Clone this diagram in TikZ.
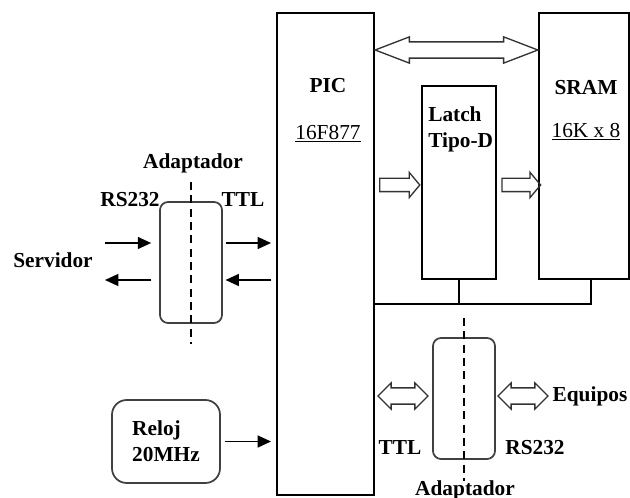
\documentclass[tikz,border=0pt]{standalone}
\usepackage{fontspec}
\setmainfont{Liberation Serif}
\usepackage{tikz}
\usetikzlibrary{shapes, shapes.arrows, arrows.meta, positioning, calc}

\begin{document}
\begin{tikzpicture}[x=0.75pt, y=-0.75pt,
    lbl/.style={font=\fontsize{16}{19.5}\selectfont\bfseries, inner sep=0pt},
    chip/.style={draw, line width=1pt, inner sep=0pt},
    adapt/.style={draw=black!75, line width=1.3pt, rounded corners=6pt, minimum width=46.5pt, minimum height=90.75pt},
    arr/.style={-{Triangle[length=10pt, width=9pt]}, line width=1pt},
    cut/.style={line width=1.2pt, dash pattern=on 6pt off 4pt},
    hollow/.style={draw=black!80, line width=1pt, inner xsep=0pt, inner ysep=5.6pt}]
    \useasboundingbox (0,0) rectangle (630,498);

    % Main blocks
    \node[chip, minimum width=72.75pt, minimum height=361.5pt] (pic) at (325.5,254) {};
    \node[chip, minimum width=67.5pt, minimum height=199.5pt] (sram) at (584,146) {};
    \node[chip, minimum width=55.5pt, minimum height=144.75pt] (latch) at (459,182.5) {};
    \node[lbl] (pictxt) at (328,86) {PIC};
    \node[lbl, font=\fontsize{16}{19.5}\selectfont] (picref) at (328,134) {\underline{16F877}};
    \node[lbl] (sramtxt) at (586,88) {SRAM};
    \node[lbl, font=\fontsize{16}{19.5}\selectfont] (sramref) at (586,132) {\underline{16K x 8}};
    \node[lbl, align=left, anchor=west] (latchtxt) at (428,129) {Latch\\Tipo-D};

    % Buses
    \node[hollow, shape=double arrow, double arrow head extend=3.75pt, double arrow tip angle=42,
          minimum height=122pt] (databus) at (456.5,50) {};
    \node[hollow, inner ysep=4.5pt, shape=single arrow, single arrow head extend=4.5pt, single arrow tip angle=100,
          minimum height=30pt] (toLatch) at (397,185) {};
    \node[hollow, inner ysep=4.5pt, shape=single arrow, single arrow head extend=4.5pt, single arrow tip angle=100,
          minimum height=29pt] (toSram) at (518.5,185) {};
    \coordinate (bus) at (374,304);
    \draw[line width=1pt] (latch.south) -- (latch.south |- bus);
    \draw[line width=1pt] (pic.east |- bus) -| ($(sram.south)+(7,0)$);

    % Serial adapter to server
    \node[adapt] (adA) at (191,262.5) {};
    \draw[cut] ($(adA.north)+(0,-19)$) -- ($(adA.south)+(0,20)$);
    \node[lbl] (adAtxt) at (193,163) {Adaptador};
    \node[lbl] (adArs) at (130,200) {RS232};
    \node[lbl] (adAttl) at (243,200) {TTL};
    \node[lbl] (srv) at (53,260) {Servidor};
    \coordinate (srvA) at (105,243);
    \coordinate (srvB) at (105,280);
    \draw[arr, shorten >=6pt] (srvA) -- (adA.west |- srvA);
    \draw[arr, shorten <=2pt, shorten >=4pt] (adA.east |- srvA) -- (pic.west |- srvA);
    \draw[arr, shorten <=6pt] (adA.west |- srvB) -- (srvB);
    \draw[arr, shorten <=4pt, shorten >=2pt] (pic.west |- srvB) -- (adA.east |- srvB);

    % Clock
    \node[draw=black!75, line width=1.3pt, rounded corners=11pt, minimum width=81pt, minimum height=62.25pt] (reloj) at (166,441.5) {};
    \node[lbl, align=left] (relojtxt) at (reloj) {Reloj\\20MHz};
    \draw[arr, shorten <=3pt, shorten >=4pt] (reloj.east) -- (pic.west |- reloj.east);

    % Serial adapter to equipment
    \node[adapt] (adB) at (464,398.5) {};
    \draw[cut] ($(adB.north)+(0,-19)$) -- ($(adB.south)+(0,21)$);
    \node[hollow, shape=double arrow, double arrow head extend=3.75pt,
          minimum height=37.5pt] (ttlbus) at (403,396) {};
    \node[hollow, shape=double arrow, double arrow head extend=3.75pt,
          minimum height=37.5pt] (rsbus) at (523,396) {};
    \node[lbl] (eq) at (590,396) {Equipos};
    \node[lbl] (adBttl) at (400,448) {TTL};
    \node[lbl] (adBrs) at (535,448) {RS232};
    \node[lbl] (adBtxt) at (465,490) {Adaptador};
\end{tikzpicture}
\end{document}
